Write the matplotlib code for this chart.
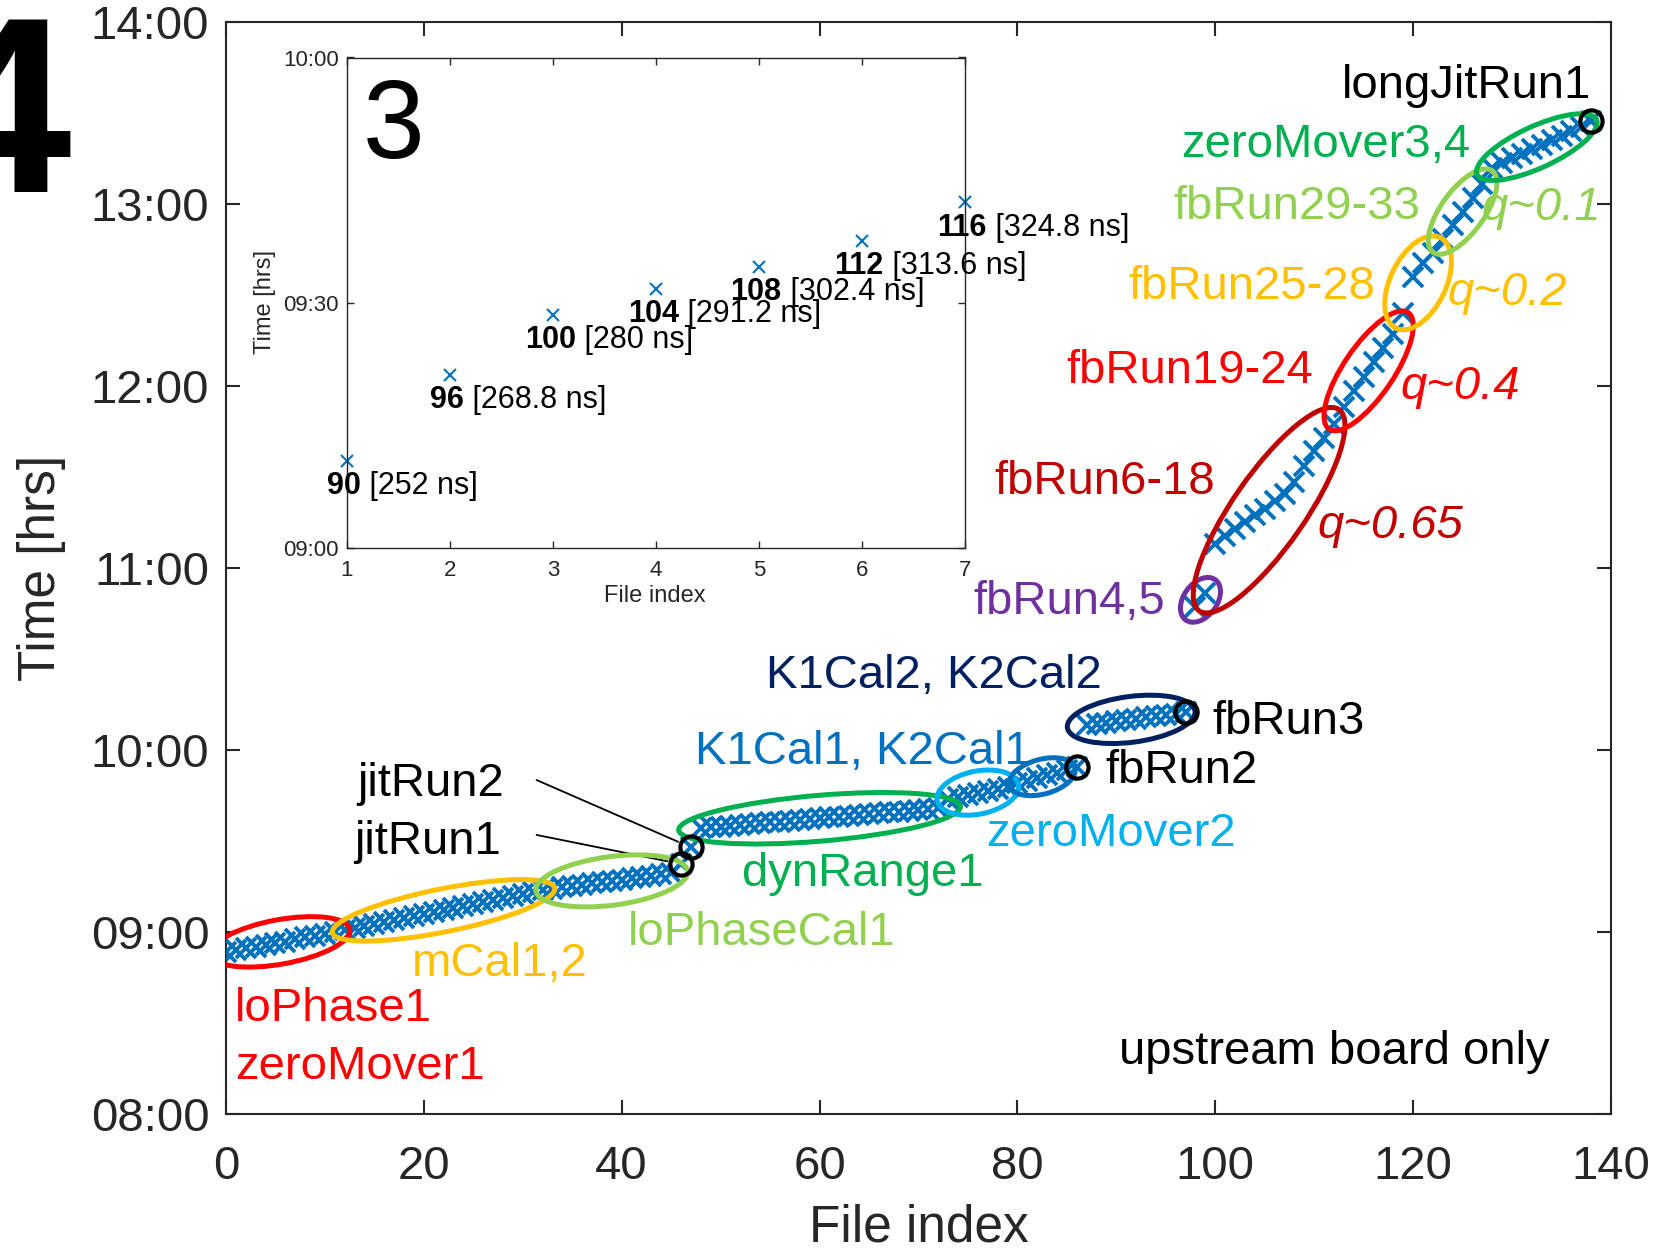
import numpy as np
import matplotlib.pyplot as plt
from matplotlib import transforms
from matplotlib.patches import Ellipse

plt.rcParams['font.family'] = ['Liberation Sans', 'DejaVu Sans']
plt.rcParams['mathtext.fontset'] = 'custom'
plt.rcParams['mathtext.rm'] = 'Liberation Sans'
plt.rcParams['mathtext.bf'] = 'Liberation Sans:bold'

# file time stamps, minutes after 08:00, one value per file, in file order
lo_phase1 = [53.5, 54.0, 54.6, 55.1, 55.7, 56.3, 56.8, 57.6, 58.2, 58.8, 59.4, 60.0]
m_cal = [60.6, 61.2, 61.9, 62.5, 63.2, 63.8, 64.5, 65.2, 65.8, 66.5, 67.1,
         67.8, 68.5, 69.1, 69.8, 70.4, 71.1, 71.8, 72.4, 73.1, 73.7]
lo_phase_cal1 = [74.3, 74.8, 75.2, 75.6, 76.0, 76.5, 76.9, 77.3, 77.7, 78.1, 78.6, 79.0, 79.4]
jit_run1 = [82.4]
jit_run2 = [87.9]
dyn_range1 = [94.2, 94.5, 94.7, 95.0, 95.3, 95.6, 95.8, 96.1, 96.4, 96.7, 96.9, 97.2, 97.5,
              97.8, 98.0, 98.3, 98.6, 98.9, 99.1, 99.4, 99.7, 100.0, 100.2, 100.5, 100.8]
zero_mover2 = [104.0, 104.6, 105.3, 105.9, 106.6, 107.2, 107.9]
k_cal1 = [109.0, 109.9, 110.8, 111.6, 112.5, 113.4]
fb_run2 = [114.5]
k_cal2 = [128.2, 128.6, 129.0, 129.5, 129.9, 130.3, 130.8, 131.2, 131.6, 132.0]
fb_run3 = [132.6]
fb_run4_5 = [167.3, 171.7]
fb_run6_18 = [188.0, 190.5, 193.0, 195.0, 197.5, 199.5, 202.0, 204.5, 208.5, 213.5, 218.5, 223.0, 227.5]
fb_run19_24 = [233.0, 238.5, 243.0, 248.0, 252.5, 257.0]
fb_run25_28 = [264.0, 276.0, 280.5, 284.0]
fb_run29_33 = [288.5, 293.0, 297.5, 302.0, 306.5]
zero_mover3_4 = [312.0, 313.5, 315.0, 316.5, 318.0, 319.5, 321.0, 322.5, 324.0, 325.5]
long_jit_run1 = [327.5]

runs = [lo_phase1, m_cal, lo_phase_cal1, jit_run1, jit_run2, dyn_range1, zero_mover2,
        k_cal1, fb_run2, k_cal2, fb_run3, fb_run4_5, fb_run6_18, fb_run19_24,
        fb_run25_28, fb_run29_33, zero_mover3_4, long_jit_run1]

y_ticks = [0, 60, 120, 180, 240, 300, 360]
y_ticklabels = ["08:00", "09:00", "10:00", "11:00", "12:00", "13:00", "14:00"]

# inset: delay scan (minutes after 09:00)
inset_idx = [1, 2, 3, 4, 5, 6, 7]
inset_time = [10.7, 21.2, 28.5, 31.7, 34.4, 37.6, 42.3]
inset_run = ["90", "96", "100", "104", "108", "112", "116"]
inset_delay = ["[252 ns]", "[268.8 ns]", "[280 ns]", "[291.2 ns]",
               "[302.4 ns]", "[313.6 ns]", "[324.8 ns]"]

file_time = np.concatenate(runs)
file_idx = np.arange(len(file_time))
starts = np.cumsum([0] + [len(r) for r in runs[:-1]])


def span(run):
    k = next(i for i, r in enumerate(runs) if r is run)
    return starts[k] + np.arange(len(run)), np.asarray(run)


BLUE = '#0072BD'
GREY = '#262626'

fig = plt.figure(figsize=(16.6, 12.5), dpi=100)
ax = fig.add_axes([0.1361, 0.1088, 0.8344, 0.8736])
ax.set_xlim(0, 140)
ax.set_ylim(0, 360)

ax.plot(file_idx, file_time, 'x', color=BLUE, ms=14, mew=2.8, zorder=3)


def ring(run, color, ext, minor, shift=(0, 0), tilt=0):
    # ellipse around a run of files, sized in points, aligned with the run
    xs, ys = span(run)
    p = ax.transData.transform(np.column_stack([xs, ys]))
    d = p[-1] - p[0]
    length = np.hypot(d[0], d[1]) / fig.dpi + ext / 72
    ang = np.degrees(np.arctan2(d[1], d[0])) + tilt
    cx, cy = (xs[0] + xs[-1]) / 2, (ys[0] + ys[-1]) / 2
    tr = (fig.dpi_scale_trans
          + transforms.ScaledTranslation(cx, cy, ax.transData)
          + transforms.ScaledTranslation(shift[0] / 72, shift[1] / 72, fig.dpi_scale_trans))
    ax.add_patch(Ellipse((0, 0), length, minor / 72, angle=ang, transform=tr,
                         fill=False, ec=color, lw=3.6, zorder=4))


ring(lo_phase1, '#FF0000', 22, 32)
ring(m_cal, '#FFC000', 18, 31)
ring(lo_phase_cal1, '#92D050', 24, 35)
ring(dyn_range1, '#00B050', 32, 33)
ring(zero_mover2, '#00B0F0', 16, 31)
ring(k_cal1, '#0070C0', 12, 25)
ring(k_cal2, '#002060', 28, 33)
ring(fb_run4_5, '#7030A0', 24, 24)
ring(fb_run6_18, '#C00000', 55, 52, shift=(-4, -19), tilt=10)
ring(fb_run19_24, '#FF0000', 38, 36)
ring(fb_run25_28, '#FFC000', 24, 40)
ring(fb_run29_33, '#92D050', 24, 31)
ring(zero_mover3_4, '#00B050', 24, 30)

# single runs marked with black circles
for run in [jit_run1, jit_run2, fb_run2, fb_run3, long_jit_run1]:
    xs, ys = span(run)
    ax.plot(xs, ys, 'o', mfc='none', mec='k', ms=16, mew=3, zorder=5)

# leader lines from the jitRun labels
for run, start in [(jit_run2, (31.4, 110.1)), (jit_run1, (31.4, 92.0))]:
    xs, ys = span(run)
    ax.annotate('', xy=(xs[0], ys[0]), xytext=start,
                arrowprops=dict(arrowstyle='-', lw=1.3, color='k', shrinkA=0, shrinkB=10))

labels = [
    ("longJitRun1", 125.4, 334.8, 'k', 'normal', 'center'),
    ("zeroMover3,4", 111.2, 315.6, '#00B050', 'normal', 'center'),
    ("fbRun29-33", 108.2, 295.0, '#92D050', 'normal', 'center'),
    ("q~0.1", 132.9, 294.7, '#92D050', 'italic', 'center'),
    ("fbRun25-28", 103.7, 268.8, '#FFC000', 'normal', 'center'),
    ("q~0.2", 129.5, 266.7, '#FFC000', 'italic', 'center'),
    ("fbRun19-24", 97.4, 240.9, '#FF0000', 'normal', 'center'),
    ("q~0.4", 124.7, 235.7, '#FF0000', 'italic', 'center'),
    ("fbRun6-18", 88.8, 204.3, '#C00000', 'normal', 'center'),
    ("q~0.65", 117.7, 190.0, '#C00000', 'italic', 'center'),
    ("fbRun4,5", 85.2, 164.8, '#7030A0', 'normal', 'center'),
    ("K1Cal2, K2Cal2", 71.6, 140.4, '#002060', 'normal', 'center'),
    ("fbRun3", 107.4, 125.4, 'k', 'normal', 'center'),
    ("K1Cal1, K2Cal1", 64.4, 115.3, '#0070C0', 'normal', 'center'),
    ("fbRun2", 96.6, 109.0, 'k', 'normal', 'center'),
    ("zeroMover2", 89.5, 88.4, '#00B0F0', 'normal', 'center'),
    ("dynRange1", 64.4, 75.1, '#00B050', 'normal', 'center'),
    ("loPhaseCal1", 54.2, 55.6, '#92D050', 'normal', 'center'),
    ("mCal1,2", 27.7, 45.5, '#FFC000', 'normal', 'center'),
    ("loPhase1", 0.9, 30.5, '#FF0000', 'normal', 'left'),
    ("zeroMover1", 0.9, 11.6, '#FF0000', 'normal', 'left'),
    ("jitRun2", 20.7, 104.8, 'k', 'normal', 'center'),
    ("jitRun1", 20.4, 85.6, 'k', 'normal', 'center'),
    ("upstream board only", 112.0, 16.5, 'k', 'normal', 'center'),
]
for txt, x, y, c, st, ha in labels:
    ax.text(x, y, txt, color=c, style=st, ha=ha, va='baseline', fontsize=34, zorder=6)

ax.set_xticks(range(0, 141, 20))
ax.set_yticks(y_ticks)
ax.set_yticklabels(y_ticklabels)
ax.tick_params(direction='in', length=10, width=1.5, top=True, right=True,
               labelsize=34, colors=GREY)
ax.tick_params(axis='x', pad=22)
ax.tick_params(axis='y', pad=12)
for s in ax.spines.values():
    s.set_linewidth(1.5)
    s.set_color(GREY)
ax.set_xlabel('File index', fontsize=37, color=GREY, va='center')
ax.set_ylabel('Time [hrs]', fontsize=37, color=GREY, va='center')
ax.xaxis.set_label_coords(0.5, -0.104)
ax.yaxis.set_label_coords(-0.133, 0.5)

# inset
ins = fig.add_axes([0.209, 0.5616, 0.3723, 0.3924])
ins.set_xlim(1, 7)
ins.set_ylim(0, 60)
ins.plot(inset_idx, inset_time, 'x', color=BLUE, ms=8, mew=1.5, clip_on=False)
for x, t, r, d in zip(inset_idx, inset_time, inset_run, inset_delay):
    b = ins.annotate(r, (x, t), xytext=(-2, -24), textcoords='offset points',
                     ha='center', va='baseline', fontsize=22, fontweight='bold',
                     annotation_clip=False)
    ins.annotate(' ' + d, xy=(1, 0), xycoords=b, ha='left', va='bottom',
                 fontsize=22, annotation_clip=False)
ins.text(1.15, 47.7, '3', fontsize=80, ha='left', va='baseline')
ins.set_xticks(inset_idx)
ins.set_yticks([0, 30, 60])
ins.set_yticklabels(["09:00", "09:30", "10:00"])
ins.tick_params(direction='in', length=5, width=1, top=True, right=True,
                labelsize=16, colors=GREY)
ins.tick_params(axis='x', pad=9)
ins.tick_params(axis='y', pad=6)
for s in ins.spines.values():
    s.set_linewidth(1.0)
    s.set_color(GREY)
ins.set_xlabel('File index', fontsize=17, color=GREY, va='center')
ins.set_ylabel('Time [hrs]', fontsize=17, color=GREY, va='center')
ins.xaxis.set_label_coords(0.498, -0.098)
ins.yaxis.set_label_coords(-0.133, 0.502)

fig.text(0.0425, 1 - 192 / 1250, '4', fontsize=181, fontweight='bold', ha='right', va='baseline')

fig.savefig('out.png', dpi=100)
